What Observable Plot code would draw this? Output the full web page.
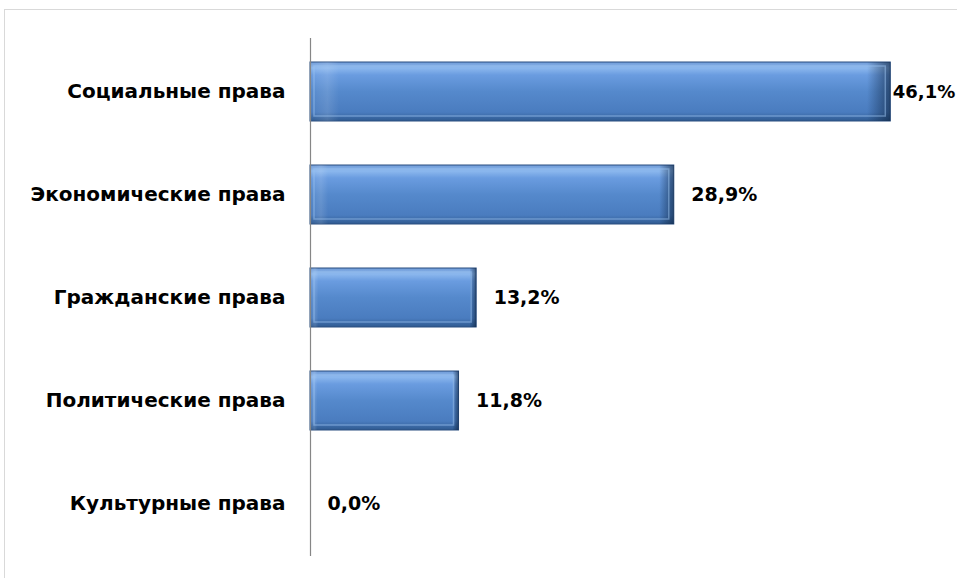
<!DOCTYPE html>
<html><head><meta charset="utf-8">
<script src="https://cdn.jsdelivr.net/npm/d3@7"></script>
<script src="https://cdn.jsdelivr.net/npm/@observablehq/plot@0.6"></script>
<style>
html,body{margin:0;padding:0;background:#fff;overflow:hidden}
#frame{position:absolute;left:4px;top:9px;width:1000px;height:600px;border:1px solid #d9d9d9;box-sizing:border-box}
#chart{position:absolute;left:0;top:0}
</style></head>
<body><div id="frame"></div><div id="chart"></div>
<script>
const categories = ["Социальные права","Экономические права","Гражданские права","Политические права","Культурные права"];
const values = [46.1, 28.9, 13.2, 11.8, 0.0];
const labels = ["46,1%","28,9%","13,2%","11,8%","0,0%"];
const data = categories.map((c,i)=>({cat:c, value:values[i], label:labels[i]}));
const maxV = d3.max(values);

const font = "'DejaVu Sans', sans-serif";
const plot = Plot.plot({
  width: 957, height: 578,
  marginLeft: 310, marginRight: 0, marginTop: 38, marginBottom: 22,
  style: {fontFamily: font, background: "transparent", overflow: "visible"},
  x: {domain: [0, 51.4], axis: null},
  y: {domain: categories, paddingInner: 0.43, paddingOuter: 0.2175, label: null, tickSize: 0, tickPadding: 25},
  marks: [
    Plot.barX(data, {x: "value", y: "cat", fill: "url(#barGrad)", stroke: "#2b4f80", strokeWidth: 1}),
    Plot.barX(data, {x: "value", y: "cat", fill: "url(#edgeGrad)"}),
    Plot.barX(data, {x: "value", y: "cat", fill: "none", stroke: "#9cc3f0", strokeOpacity: 0.5, strokeWidth: 1.5, insetTop: 4, insetBottom: 5, insetLeft: 4, insetRight: 5}),
    Plot.ruleX([0], {stroke: "#868686", strokeWidth: 1.2}),
    Plot.text(data.filter(d => d.value !== maxV), {x: "value", y: "cat", text: "label", textAnchor: "start", dx: 17, fontSize: 19, fontWeight: "bold", fill: "#000"}),
    Plot.text(data.filter(d => d.value === maxV), {x: "value", y: "cat", text: "label", textAnchor: "start", dx: 2, fontSize: 18, fontWeight: "bold", fill: "#000"}),
    Plot.axisY({tickSize: 0, tickPadding: 25, fontSize: 20, fontWeight: "bold", label: null, fill: "#000"})
  ]
});
const svg = d3.select(plot);
const defs = svg.insert("defs", ":first-child");
const g = defs.append("linearGradient").attr("id","barGrad").attr("x1",0).attr("y1",0).attr("x2",0).attr("y2",1);
[[0,"#6f9ad6"],[0.1,"#8cb8ee"],[0.22,"#6a9ce0"],[0.5,"#5589cc"],[0.85,"#4a7cbf"],[1,"#2f5a90"]].forEach(([o,c])=>g.append("stop").attr("offset",o).attr("stop-color",c));
const e = defs.append("linearGradient").attr("id","edgeGrad").attr("x1",0).attr("y1",0).attr("x2",1).attr("y2",0);
[[0,"#ffffff",0],[0.03,"#ffffff",0.12],[0.05,"#ffffff",0],[0.96,"#0a1f3a",0],[1,"#0a1f3a",0.6]].forEach(([o,c,a])=>e.append("stop").attr("offset",o).attr("stop-color",c).attr("stop-opacity",a));
document.getElementById("chart").appendChild(plot);
</script>
</body></html>
